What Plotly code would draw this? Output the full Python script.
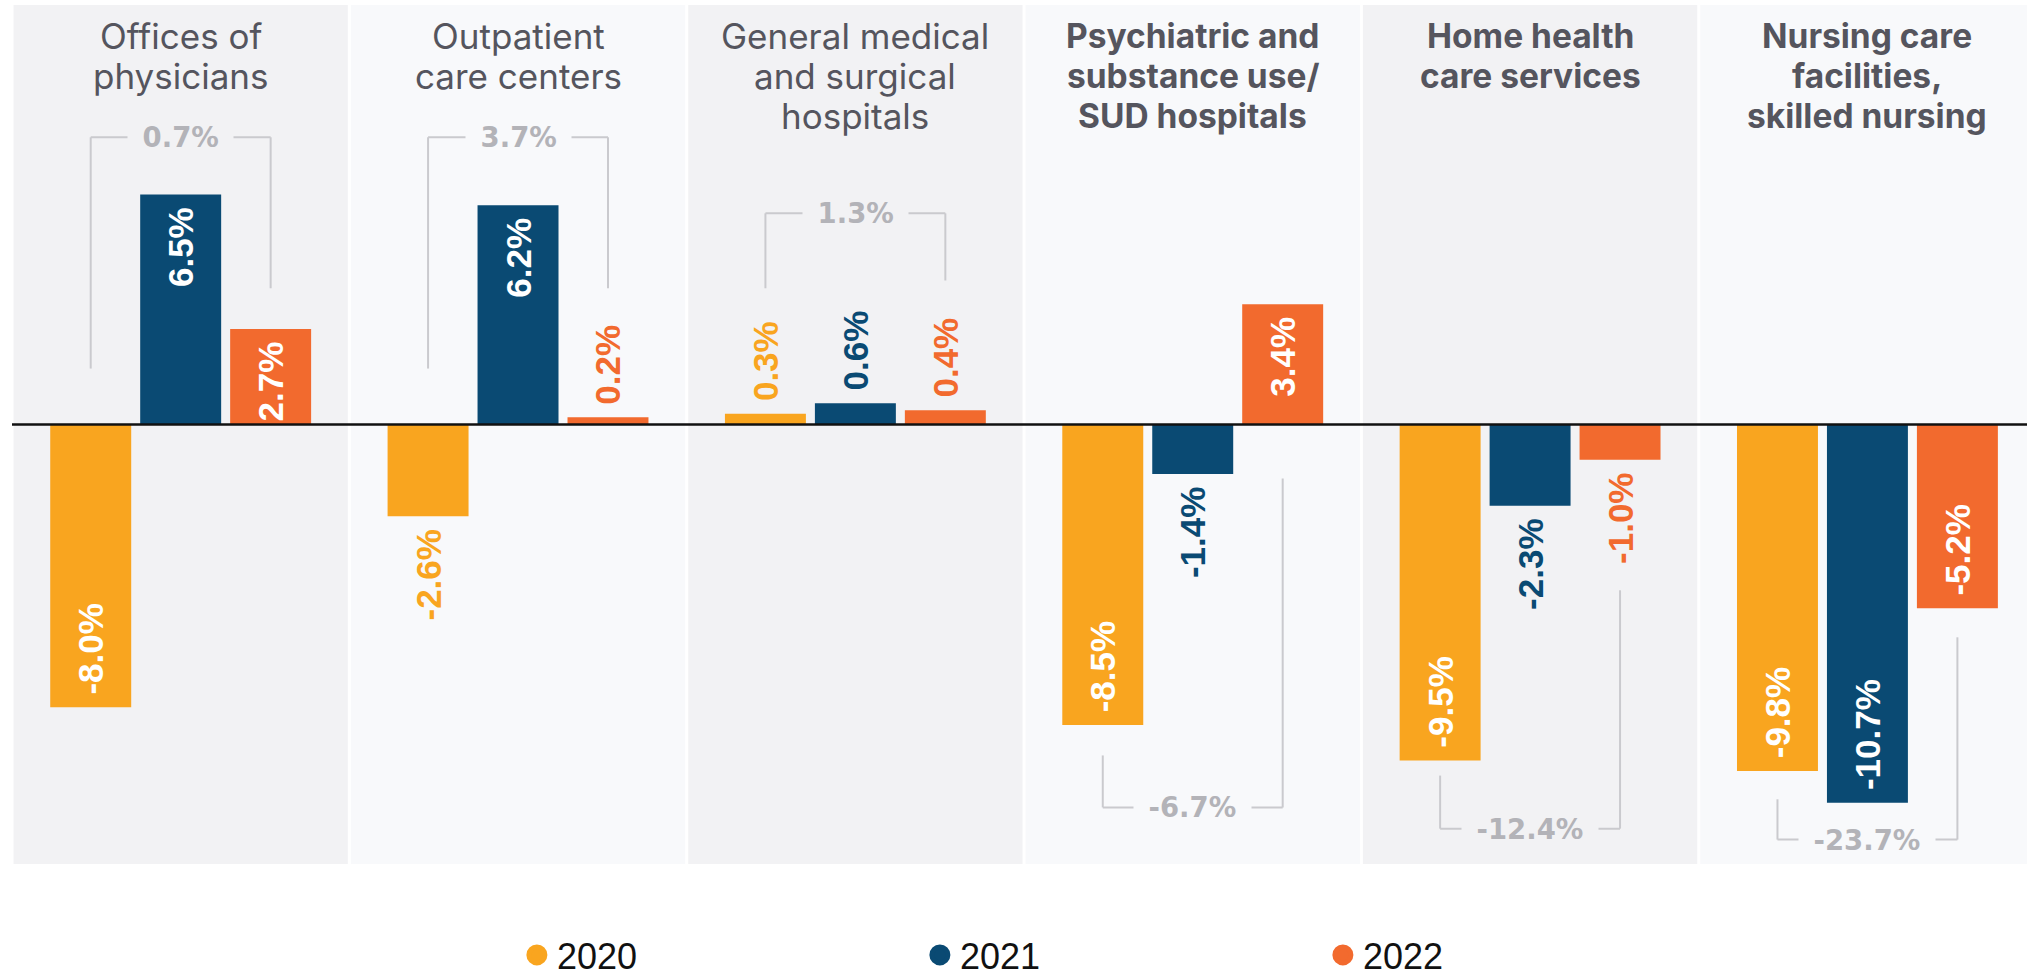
import plotly.graph_objects as go

# ---------------- data ----------------
categories = [
    "Offices of physicians",
    "Outpatient care centers",
    "General medical and surgical hospitals",
    "Psychiatric and substance use/SUD hospitals",
    "Home health care services",
    "Nursing care facilities, skilled nursing",
]
title_lines = [
    ["Offices of", "physicians"],
    ["Outpatient", "care centers"],
    ["General medical", "and surgical", "hospitals"],
    ["Psychiatric and", "substance use/", "SUD hospitals"],
    ["Home health", "care services"],
    ["Nursing care", "facilities,", "skilled nursing"],
]
title_bold = [False, False, False, True, True, True]
years = ["2020", "2021", "2022"]
v2020 = [-8.0, -2.6, 0.3, -8.5, -9.5, -9.8]
v2021 = [6.5, 6.2, 0.6, -1.4, -2.3, -10.7]
v2022 = [2.7, 0.2, 0.4, 3.4, -1.0, -5.2]
cumulative = [0.7, 3.7, 1.3, -6.7, -12.4, -23.7]

# ---------------- bracket geometry (y, data units) ----------------
bracket_level = [8.12, 8.12, 5.97, -10.83, -11.43, -11.74]
bracket_left_end = [1.58, 1.58, 3.85, -9.36, -9.93, -10.60]
bracket_right_end = [3.85, 3.85, 4.07, -1.53, -4.69, -6.02]

# ---------------- style ----------------
colors = ["#F9A51F", "#0A4A73", "#F26A2E"]
panel_colors = ["#F2F2F4", "#F8F9FB"]
title_color = "#55555E"
bracket_line_color = "#CACACE"
bracket_text_color = "#B3B3B8"
BARGAP = 0.2
BARGROUPGAP = 0.1
slot = (1 - BARGAP) / 3
NB = "\u00a0"
TITLE_LINE_Y = [31, 71, 111]   # px below plot top, line centers

fig = go.Figure()

series = [v2020, v2021, v2022]
for k, (yr, vals) in enumerate(zip(years, series)):
    texts, positions = [], []
    for v in vals:
        lab = f"{v:.1f}%"
        inside = abs(v) > 2.65
        positions.append("inside" if inside else "outside")
        if (v >= 0 and inside) or (v < 0 and not inside):
            texts.append(f"<b>{lab}{NB}</b>")
        else:
            texts.append(f"<b>{NB}{lab}</b>")
    fig.add_trace(go.Bar(
        x=categories, y=vals, name=yr,
        marker=dict(color=colors[k], line=dict(width=0)),
        text=texts, textposition=positions, textangle=-90,
        insidetextanchor="end", constraintext="none", cliponaxis=False,
        insidetextfont=dict(family="Liberation Sans, Arial", size=35, color="white"),
        outsidetextfont=dict(family="Liberation Sans, Arial", size=35, color=colors[k]),
        showlegend=False, hoverinfo="skip",
    ))

# legend entries as round markers
for k, yr in enumerate(years):
    fig.add_trace(go.Scatter(
        x=[None], y=[None], mode="markers", name=yr,
        marker=dict(symbol="circle", size=16, color=colors[k],
                    line=dict(color=colors[k], width=5)),
        showlegend=True,
    ))

shapes = []
annotations = []
eps = 0.0045
for i in range(len(categories)):
    pc = panel_colors[i % 2]
    shapes.append(dict(type="rect", xref="x", yref="paper",
                       x0=i - 0.5 + eps, x1=i + 0.5 - eps, y0=0, y1=1,
                       fillcolor=pc, line=dict(width=0), layer="below"))
    xl = i - slot
    xr = i + slot
    lv = bracket_level[i]
    for (xa, ya, xb, yb) in [(xl, bracket_left_end[i], xl, lv),
                             (xl, lv, xr, lv),
                             (xr, lv, xr, bracket_right_end[i])]:
        shapes.append(dict(type="line", xref="x", yref="y",
                           x0=xa, y0=ya, x1=xb, y1=yb,
                           line=dict(color=bracket_line_color, width=2),
                           layer="below"))
    annotations.append(dict(
        x=i, y=lv, xref="x", yref="y",
        text=f"<b>{NB}{cumulative[i]:.1f}%{NB}</b>", showarrow=False,
        font=dict(family="DejaVu Sans", size=27.5, color=bracket_text_color),
        bgcolor=pc, borderpad=5, xanchor="center", yanchor="middle",
    ))
    for j, line in enumerate(title_lines[i]):
        annotations.append(dict(
            x=i, y=1, xref="x", yref="paper", yanchor="middle",
            yshift=-TITLE_LINE_Y[j],
            text=f"<b>{line}</b>" if title_bold[i] else line,
            showarrow=False, align="center",
            font=dict(family="Inter", size=33.5 if title_bold[i] else 35,
                      color=title_color),
        ))

shapes.append(dict(type="line", xref="paper", yref="y", x0=0, x1=1, y0=0, y1=0,
                   line=dict(color="#111111", width=2.5), layer="above"))

fig.update_layout(
    width=2027, height=976,
    margin=dict(l=12, r=0, t=5, b=112, pad=0),
    barmode="group", bargap=BARGAP, bargroupgap=BARGROUPGAP,
    plot_bgcolor="white", paper_bgcolor="white",
    xaxis=dict(type="category", range=[-0.5, 5.473], showticklabels=False,
               showgrid=False, zeroline=False, showline=False, ticks=""),
    yaxis=dict(range=[-12.43, 11.86], showticklabels=False, showgrid=False,
               zeroline=False, showline=False, ticks=""),
    legend=dict(orientation="h", xref="container", yref="container",
                x=0.255, y=0.0215, xanchor="left", yanchor="middle",
                font=dict(family="Liberation Sans, Arial", size=36, color="#111111"),
                entrywidth=358, entrywidthmode="pixels", itemwidth=30,
                bgcolor="rgba(0,0,0,0)", borderwidth=0),
    shapes=shapes, annotations=annotations,
)

fig.write_html("out.html", config={"displayModeBar": False},
               post_script="document.body.style.margin='0';")
